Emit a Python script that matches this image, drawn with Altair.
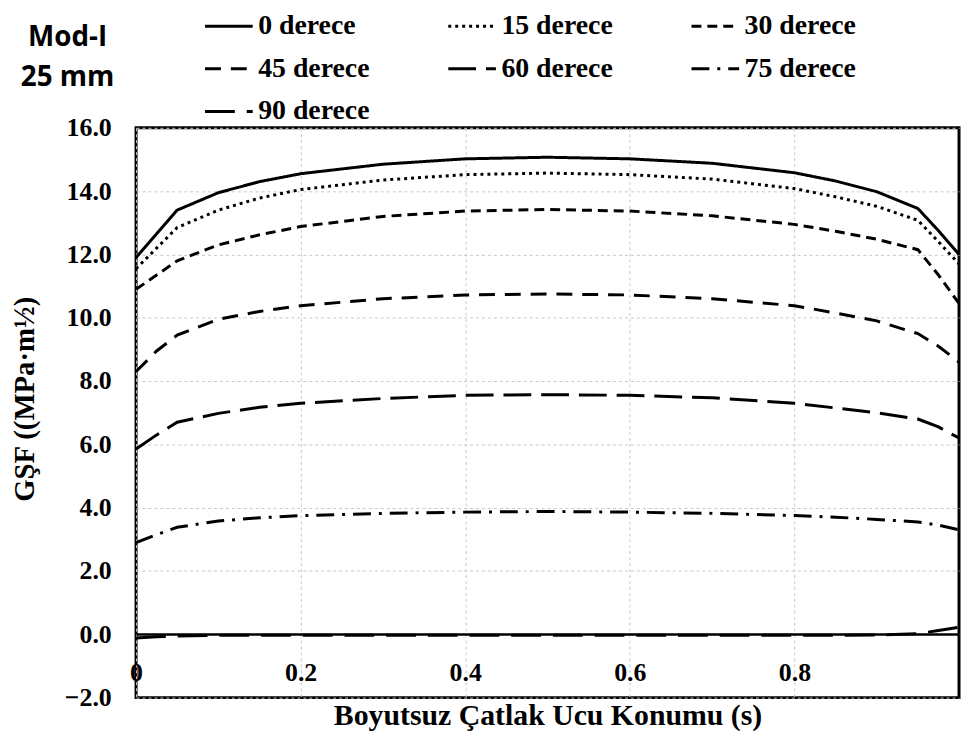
import altair as alt
import pandas as pd

s_pos = [0, 0.025, 0.05, 0.1, 0.15, 0.2, 0.3, 0.4, 0.5, 0.6, 0.7, 0.8, 0.85, 0.9, 0.95, 0.975, 1.0]

series_names = ["0 derece", "15 derece", "30 derece", "45 derece", "60 derece", "75 derece", "90 derece"]

gsf_0 = [11.9, 12.65, 13.4, 13.95, 14.3, 14.55, 14.85, 15.02, 15.07, 15.02, 14.88, 14.58, 14.32, 13.98, 13.45, 12.75, 12.0]
gsf_15 = [11.55, 12.2, 12.85, 13.4, 13.78, 14.05, 14.35, 14.52, 14.57, 14.52, 14.38, 14.08, 13.82, 13.52, 13.08, 12.4, 11.7]
gsf_30 = [10.9, 11.35, 11.8, 12.3, 12.62, 12.88, 13.2, 13.37, 13.42, 13.37, 13.22, 12.95, 12.73, 12.48, 12.15, 11.35, 10.45]
gsf_45 = [8.3, 8.95, 9.45, 9.95, 10.2, 10.38, 10.6, 10.72, 10.75, 10.72, 10.6, 10.38, 10.15, 9.9, 9.5, 9.1, 8.6]
gsf_60 = [5.85, 6.3, 6.7, 6.98, 7.17, 7.3, 7.45, 7.55, 7.57, 7.55, 7.47, 7.3, 7.15, 7.0, 6.8, 6.55, 6.2]
gsf_75 = [2.9, 3.15, 3.38, 3.58, 3.68, 3.75, 3.82, 3.86, 3.88, 3.86, 3.82, 3.75, 3.7, 3.63, 3.55, 3.45, 3.3]
gsf_90 = [-0.12, -0.08, -0.05, -0.03, -0.03, -0.03, -0.03, -0.03, -0.03, -0.03, -0.03, -0.03, -0.03, -0.02, 0.02, 0.12, 0.22]

dash_styles = [[1, 0], [3, 4], [10, 6], [16, 10], [28, 10], [18, 8, 3, 8], [30, 12]]

x_ticks = [0, 0.2, 0.4, 0.6, 0.8]
y_ticks = [-2, 0, 2, 4, 6, 8, 10, 12, 14, 16]

all_series = [gsf_0, gsf_15, gsf_30, gsf_45, gsf_60, gsf_75, gsf_90]
rows = []
for name, vals in zip(series_names, all_series):
    for s, v in zip(s_pos, vals):
        rows.append({"s": s, "gsf": v, "seri": name})
df = pd.DataFrame(rows)

serif = "Liberation Serif"

chart = alt.Chart(df).mark_line(strokeWidth=3, color="black", clip=True).encode(
    x=alt.X("s:Q",
            scale=alt.Scale(domain=[0, 1], nice=False),
            axis=alt.Axis(values=x_ticks, offset=-64, ticks=False, labelFlush=False,
                          labelExpr="datum.value == 0 ? '0' : format(datum.value, '.1f')",
                          labelPadding=26, domainColor="black", domainWidth=2.5,
                          title="Boyutsuz Çatlak Ucu Konumu (s)", titlePadding=15,
                          titleFontSize=30)),
    y=alt.Y("gsf:Q",
            scale=alt.Scale(domain=[-2, 16], nice=False),
            axis=alt.Axis(values=y_ticks, format=".1f", ticks=False, domain=False,
                          labelPadding=25, title="GŞF ((MPa·m½)",
                          titleX=-112, titleY=273, titleAngle=270, titleFontSize=29,
                          titleAlign="center", titleBaseline="middle")),
    strokeDash=alt.StrokeDash("seri:N",
                              scale=alt.Scale(domain=series_names, range=dash_styles),
                              sort=series_names,
                              legend=alt.Legend(title=None, orient="none", legendX=68, legendY=-128,
                                                direction="horizontal",
                                                columns=3, symbolType="stroke", symbolSize=2304,
                                                symbolStrokeWidth=3, symbolStrokeColor="black",
                                                labelFont=serif, labelFontWeight="bold",
                                                labelFontSize=28, labelColor="black",
                                                labelOffset=4, columnPadding=72, rowPadding=3,
                                                labelLimit=300)),
    detail="seri:N",
).properties(
    width=829,
    height=574,
    autosize=alt.AutoSizeParams(type="none"),
    padding={"left": 129, "top": 118, "right": 3, "bottom": 40},
    title=alt.TitleParams(text=["Mod-I", "25 mm"], anchor="start", align="center",
                          frame="group", orient="top", baseline="top", offset=0,
                          dx=-69, dy=92, font="Open Sans", fontWeight="bold",
                          fontSize=28, lineHeight=40, color="black"),
).configure_view(
    stroke="black", strokeWidth=3
).configure_axis(
    labelFont=serif, labelFontWeight="bold", labelFontSize=26, labelColor="black",
    titleFont=serif, titleFontWeight="bold", titleFontSize=29, titleColor="black",
    grid=True, gridColor="#c8c8c8", gridDash=[3, 3], gridWidth=1,
)

chart.save("out.html", embed_options={"renderer": "svg", "actions": False})
